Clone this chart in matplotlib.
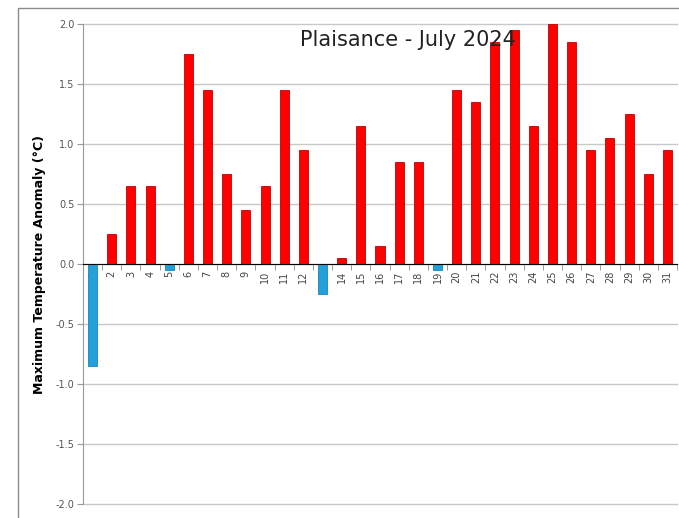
import numpy as np
import matplotlib.pyplot as plt
from matplotlib.patches import Rectangle

days = [str(d) for d in range(1, 32)]
anomaly = [-0.85, 0.25, 0.65, 0.65, -0.05, 1.75, 1.45, 0.75, 0.45, 0.65,
           1.45, 0.95, -0.25, 0.05, 1.15, 0.15, 0.85, 0.85, -0.05, 1.45,
           1.35, 1.85, 1.95, 1.15, 2.0, 1.85, 0.95, 1.05, 1.25, 0.75, 0.95]
y_ticks = [-2.0, -1.5, -1.0, -0.5, 0.0, 0.5, 1.0, 1.5, 2.0]
title = "Plaisance - July 2024"


def main():
    fig = plt.figure(figsize=(6.79, 5.18), dpi=100)
    # outer chart frame (top and left edges visible)
    fig.patches.append(Rectangle((18 / 679, -0.05), 1.0, 1 - 8 / 518 + 0.05,
                                 transform=fig.transFigure, fill=False,
                                 edgecolor="#8c8c8c", linewidth=1.0))
    ax = fig.add_axes([83 / 679, 1 - 504 / 518, 594 / 679, 480 / 518])

    x = np.arange(len(days))
    vals = np.array(anomaly)
    colors = ["#ff0000" if v >= 0 else "#22a0d8" for v in vals]
    edges = ["#c00000" if v >= 0 else "#1a86b8" for v in vals]
    ax.bar(x, vals, width=0.47, color=colors, edgecolor=edges, linewidth=0.6,
           zorder=3)

    ax.set_xlim(-0.5, len(days) - 0.5)
    ax.set_ylim(-2.0, 2.0)
    ax.set_yticks(y_ticks)
    ax.set_yticklabels([f"{t:.1f}" for t in y_ticks], fontsize=7,
                       color="#555555")
    ax.yaxis.grid(True, color="#c8c8c8", linewidth=1.0, zorder=0)
    for gl in ax.get_ygridlines():
        gl.set_clip_on(False)
    ax.tick_params(axis="y", length=4, color="#999999", pad=2)

    ax.spines["top"].set_visible(False)
    ax.spines["right"].set_visible(False)
    ax.spines["left"].set_color("#999999")
    ax.spines["bottom"].set_position(("data", 0))
    ax.spines["bottom"].set_color("black")
    ax.spines["bottom"].set_zorder(4)

    ax.set_xticks(x)
    ax.set_xticklabels(days, rotation=90, fontsize=7, color="#444444")
    ax.tick_params(axis="x", which="major", length=0, pad=5)
    ax.set_xticks(np.arange(-0.5, len(days), 1.0), minor=True)
    ax.tick_params(axis="x", which="minor", length=4, direction="out",
                   color="#888888")

    ax.set_ylabel("Maximum Temperature Anomaly (\u00b0C)", fontsize=9,
                  fontweight="bold", labelpad=7)

    fig.text(408 / 679, 1 - 40 / 518, title, ha="center", va="center",
             fontsize=15, color="#222222")

    fig.savefig("out.png", dpi=100)


if __name__ == "__main__":
    main()
